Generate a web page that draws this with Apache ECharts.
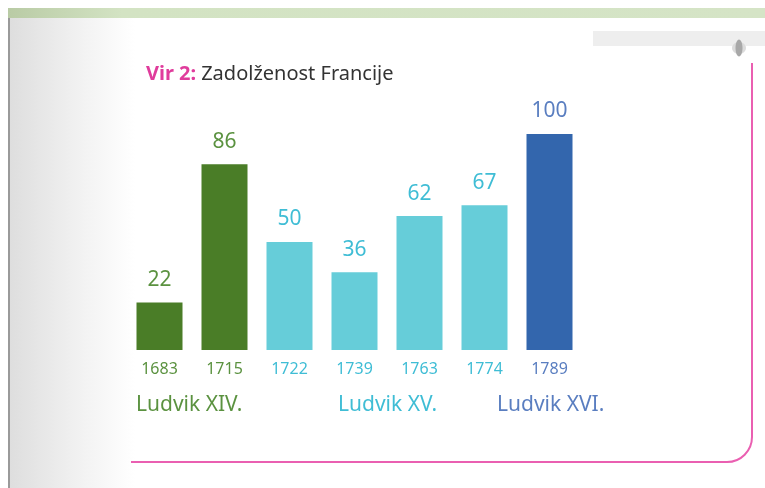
<!DOCTYPE html>
<html>
<head>
<meta charset="utf-8">
<script src="https://cdn.jsdelivr.net/npm/echarts@6/dist/echarts.min.js"></script>
<style>
  html, body { margin: 0; padding: 0; background: #fff; }
  #chart { width: 765px; height: 488px; }
</style>
</head>
<body>
<div id="chart"></div>
<script>
// podatki
const years = ['1683', '1715', '1722', '1739', '1763', '1774', '1789']
const debt = [22, 86, 50, 36, 62, 67, 100]
const kings = ['Ludvik XIV.', 'Ludvik XV.', 'Ludvik XVI.']
// kateri kralj za posamezno leto
const kingOf = [0, 0, 1, 1, 1, 1, 2]

const barColors = ['#4a7d27', '#66cdd9', '#3366ad']
const textColors = ['#5b9240', '#3fbdd5', '#5a7ec0']
const font = 'Noto Sans'
const pink = '#ea5fb1'

let myChart = echarts.init(document.getElementById('chart'))
let option = {
  backgroundColor: '#fff',
  animation: false,
  title: {
    text: '{a|Vir 2:} {b|Zadolženost Francije}',
    left: 141,
    top: 59,
    textStyle: {
      fontWeight: 'normal',
      rich: {
        a: { color: '#e03c9c', fontWeight: 'bold', fontSize: 20, fontFamily: font },
        b: { color: '#333', fontWeight: 'normal', fontSize: 20, fontFamily: font }
      }
    }
  },
  grid: {
    left: 127,
    width: 455,
    top: 134,
    bottom: 138
  },
  xAxis: {
    type: 'category',
    data: years,
    axisLine: { show: false },
    axisTick: { show: false },
    axisLabel: {
      margin: 11,
      fontSize: 16,
      fontFamily: font,
      color: function (value, index) {
        return textColors[kingOf[index]]
      }
    }
  },
  yAxis: {
    type: 'value',
    min: 0,
    max: 100,
    show: false
  },
  series: [{
    type: 'bar',
    barWidth: 46,
    data: debt.map((v, i) => ({
      value: v,
      itemStyle: { color: barColors[kingOf[i]] },
      label: { color: textColors[kingOf[i]] }
    })),
    label: {
      show: true,
      position: 'top',
      distance: 12,
      fontSize: 21,
      fontFamily: font
    }
  }],
  graphic: [
    // siva leva senca
    {
      type: 'rect',
      shape: { x: 10, y: 18, width: 125, height: 470 },
      style: {
        fill: new echarts.graphic.LinearGradient(0, 0, 1, 0, [
          { offset: 0, color: '#dedede' },
          { offset: 0.6, color: '#f3f3f3' },
          { offset: 1, color: '#ffffff' }
        ])
      },
      silent: true
    },
    {
      type: 'rect',
      shape: { x: 8, y: 8, width: 2, height: 480 },
      style: { fill: '#9a9a9a' },
      silent: true
    },
    // zelen trak zgoraj
    {
      type: 'rect',
      shape: { x: 8, y: 8, width: 757, height: 10 },
      style: {
        fill: new echarts.graphic.LinearGradient(0, 0, 1, 0, [
          { offset: 0, color: '#b9cba5' },
          { offset: 0.15, color: '#d3e3c3' },
          { offset: 1, color: '#d5e4c6' }
        ])
      },
      silent: true
    },
    // siv trak desno zgoraj
    {
      type: 'rect',
      shape: { x: 593, y: 31, width: 172, height: 15 },
      style: { fill: '#eeeeee' },
      silent: true
    },
    {
      type: 'ellipse',
      shape: { cx: 739, cy: 48, rx: 7, ry: 6 },
      style: { fill: '#dcdcdc' },
      silent: true
    },
    {
      type: 'ellipse',
      shape: { cx: 739, cy: 48, rx: 3.5, ry: 8.5 },
      style: { fill: '#a8a8a8' },
      silent: true
    },
    // roza okvir
    {
      type: 'line',
      shape: { x1: 752, y1: 63, x2: 752, y2: 437 },
      style: { stroke: pink, lineWidth: 2 },
      silent: true
    },
    {
      type: 'arc',
      shape: { cx: 727, cy: 437, r: 25, startAngle: 0, endAngle: Math.PI / 2, clockwise: true },
      style: { fill: null, stroke: pink, lineWidth: 2 },
      silent: true
    },
    {
      type: 'line',
      shape: { x1: 727, y1: 462, x2: 131, y2: 462 },
      style: { stroke: pink, lineWidth: 2 },
      silent: true
    },
    // kralji
    {
      type: 'text',
      left: 136,
      top: 395,
      style: { text: kings[0], fill: textColors[0], fontSize: 21, fontFamily: font }
    },
    {
      type: 'text',
      left: 338,
      top: 395,
      style: { text: kings[1], fill: textColors[1], fontSize: 21, fontFamily: font }
    },
    {
      type: 'text',
      left: 497,
      top: 395,
      style: { text: kings[2], fill: textColors[2], fontSize: 21, fontFamily: font }
    }
  ]
}
myChart.setOption(option)
</script>
</body>
</html>
